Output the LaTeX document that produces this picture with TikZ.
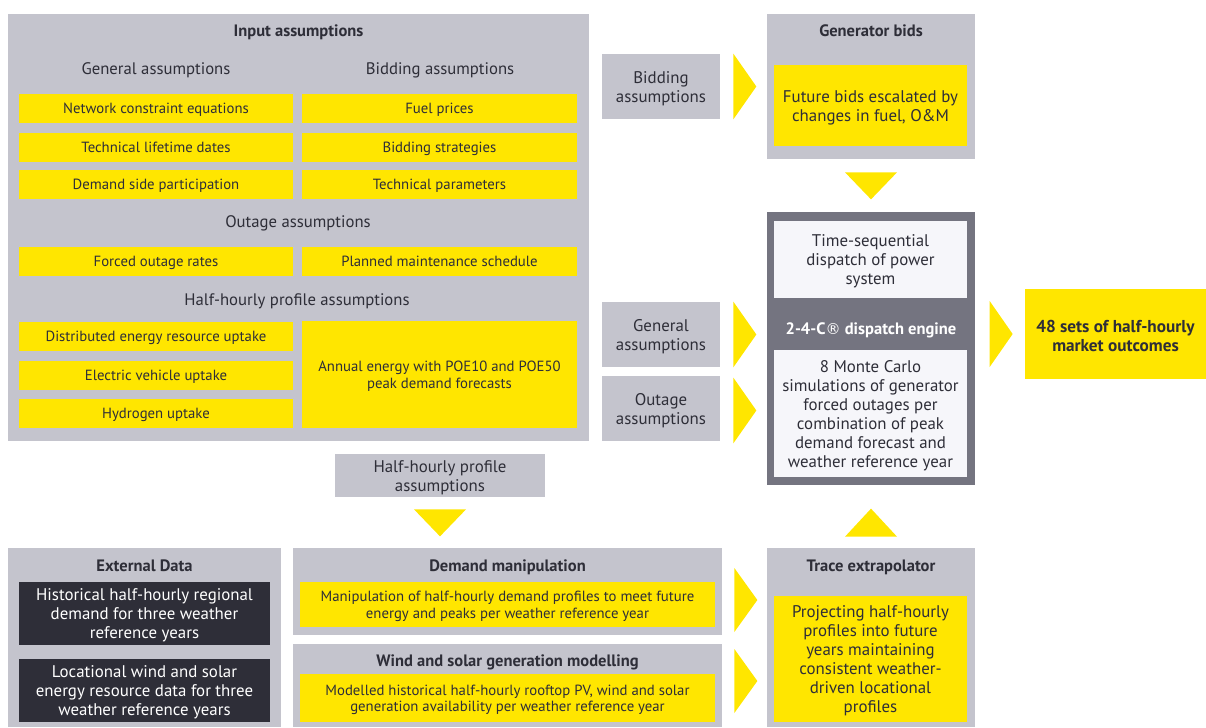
\documentclass[tikz,border=0pt]{standalone}
\usepackage{fontspec}
\setmainfont{PT Sans}
\newfontfamily\regfont{DejaVu Sans}
\usetikzlibrary{calc}
\definecolor{eyyellow}{HTML}{FFE600}
\definecolor{eygrey}{HTML}{C4C4CD}
\definecolor{eymid}{HTML}{747480}
\definecolor{eydark}{HTML}{2E2E38}
\definecolor{eywhite}{HTML}{F6F6FA}
\newcommand\lowr{\rule{0pt}{0.95em}}
\tikzset{
	sz/.style 2 args={minimum width=#1*0.02cm, minimum height=#2*0.02cm},
	greybox/.style={fill=eygrey, inner sep=0pt, align=center, text=eydark},
	ybox/.style={fill=eyyellow, inner sep=0pt, align=center, text=eydark},
	wbox/.style={fill=eywhite, inner sep=0pt, align=center, text=eydark},
	darkbox/.style={fill=eydark, inner sep=0pt, align=center, text=white},
	chev/.style={fill=eyyellow},
	tsmall/.style={font=\fontsize{8.4}{9.6}\selectfont},
	tsone/.style={tsmall, text height=8pt, text depth=2.1pt},
	tmed/.style={font=\fontsize{9.6}{10.8}\selectfont},
	thead/.style={font=\fontsize{9.5}{11}\selectfont, text=eydark, text height=9pt, text depth=2.4pt},
	ttitle/.style={font=\fontsize{9.4}{11}\selectfont\bfseries, text=eydark, text height=8.9pt, text depth=2.35pt},
}

\begin{document}
\begin{tikzpicture}[x=0.02cm, y=-0.02cm]
	\useasboundingbox (0,0) rectangle (1206,727);
	\begin{scope}
		\node (inp) at (298.5,227.5) [greybox, sz={581}{427}] {};
		\node (inpT) at (298.5,31) [ttitle] {Input assumptions};
		\node (hGen) at (156,69) [thead] {General assumptions};
		\node (hBid) at (440,69) [thead] {Bidding assumptions};
		\node (nce) at (156,108) [ybox, tsone, sz={274}{29}] {Network constraint equations};
		\node (fuel) at (439.5,108) [ybox, tsone, sz={275}{29}] {Fuel prices};
		\node (tld) at (156,147) [ybox, tsone, sz={274}{29}] {Technical lifetime dates};
		\node (bstr) at (439.5,147) [ybox, tsone, sz={275}{29}] {Bidding strategies};
		\node (dsp) at (156,184) [ybox, tsone, sz={274}{29}] {Demand side participation};
		\node (tpar) at (439.5,184) [ybox, tsone, sz={275}{29}] {Technical parameters};
		\node (hOut) at (298,222) [thead] {Outage assumptions};
		\node (for) at (156,261) [ybox, tsone, sz={274}{29}] {Forced outage rates};
		\node (pms) at (439.5,261) [ybox, tsone, sz={275}{29}] {Planned maintenance schedule};
		\node (hHh) at (297,300) [thead] {Half-hourly profile assumptions};
		\node (der) at (156,336) [ybox, tsone, sz={274}{29}] {Distributed energy resource uptake};
		\node (ev) at (156,375) [ybox, tsone, sz={274}{29}] {Electric vehicle uptake};
		\node (hyd) at (156,413) [ybox, tsone, sz={274}{29}] {Hydrogen uptake};
		\node (ann) at (439.5,374.5) [ybox, tsmall, sz={275}{107}] {\lowr Annual energy with POE10 and POE50\\peak demand forecasts};
	\end{scope}
	\node (hh) at (440,475.5) [greybox, tmed, sz={210}{43}] {\lowr Half-hourly profile\\assumptions};
	\fill [chev] ($(hh.south)+(-26,12)$) -- ($(hh.south)+(26,12)$) -- ($(hh.south)+(0,39)$) -- cycle;
	\begin{scope}
		\node (ext) at (144.5,637.5) [greybox, sz={273}{179}] {};
		\node (extT) at (144.5,566) [ttitle] {External Data};
		\node (hist) at (144.5,613.5) [darkbox, tmed, sz={251}{63}] {\lowr Historical half-hourly regional\\demand for three weather\\reference years};
		\node (loc) at (144.5,690.5) [darkbox, tmed, sz={251}{63}] {\lowr Locational wind and solar\\energy resource data for three\\weather reference years};
		\node (dm) at (507.5,591.5) [greybox, sz={429}{87}] {};
		\node (dmT) at (507.5,566) [ttitle] {Demand manipulation};
		\node (dmtxt) at (507.5,604.5) [ybox, tsmall, sz={415}{45}] {\lowr Manipulation of half-hourly demand profiles to meet future\\energy and peaks per weather reference year};
		\node (ws) at (507.5,685.5) [greybox, sz={429}{83}] {};
		\node (wsT) at (507.5,661) [ttitle] {Wind and solar generation modelling};
		\node (wstxt) at (507.5,698) [ybox, tsmall, sz={415}{48}] {\lowr Modelled historical half-hourly rooftop PV, wind and solar\\generation availability per weather reference year};
	\end{scope}
	\node (bidA) at (661,86.5) [greybox, tmed, sz={118}{65}] {\lowr Bidding\\assumptions};
	\node (genA) at (661,334.5) [greybox, tmed, sz={118}{65}] {\lowr General\\assumptions};
	\node (outA) at (661,408.5) [greybox, tmed, sz={118}{65}] {\lowr Outage\\assumptions};
	\begin{scope}
		\node (gen) at (871,86.5) [greybox, sz={208}{145}] {};
		\node (genT) at (871,31) [ttitle] {Generator bids};
		\node (gentxt) at (870.5,105.5) [ybox, tmed, sz={193}{81}] {\lowr Future bids escalated by\\changes in fuel, O\&M};
	\end{scope}
	\begin{scope}
		\node (eng) at (871,348.5) [fill=eymid, sz={208}{273}] {};
		\node (tsd) at (870.5,259.5) [wbox, tmed, sz={193}{77}] {\lowr Time-sequential\\dispatch of power\\system};
		\node (engT) at (871,329) [ttitle, text=white] {2-4-C{\regfont\mdseries\fontsize{8.6}{11}\selectfont ®} dispatch engine};
		\node (mc) at (870.5,413.5) [wbox, tmed, sz={193}{127}] {\lowr 8 Monte Carlo\\simulations of generator\\forced outages per\\combination of peak\\demand forecast and\\weather reference year};
	\end{scope}
	\node (out) at (1115.5,334) [ybox, font=\fontsize{9.8}{11}\selectfont\bfseries, sz={181}{90}] {\lowr 48 sets of half-hourly\\market outcomes};
	\begin{scope}
		\node (trace) at (871,637.5) [greybox, sz={208}{179}] {};
		\node (traceT) at (871,566) [ttitle] {Trace extrapolator};
		\node (trtxt) at (870.5,659) [ybox, tmed, sz={193}{126}] {\lowr Projecting half-hourly\\profiles into future\\years maintaining\\consistent weather-\\driven locational\\profiles};
	\end{scope}
	\fill [chev] ($(bidA.north east)+(13,0)$) -- ($(bidA.east)+(36,0)$) -- ($(bidA.south east)+(13,0)$) -- cycle;
	\fill [chev] ($(genA.north east)+(13,0)$) -- ($(genA.east)+(36,0)$) -- ($(genA.south east)+(13,0)$) -- cycle;
	\fill [chev] ($(outA.north east)+(13,2)$) -- ($(outA.east)+(36,2)$) -- ($(outA.south east)+(13,2)$) -- cycle;
	\fill [chev] ($(gen.south)+(-26,13)$) -- ($(gen.south)+(26,13)$) -- ($(gen.south)+(0,40)$) -- cycle;
	\fill [chev] ($(trace.north)+(-26,-11)$) -- ($(trace.north)+(26,-11)$) -- ($(trace.north)+(0,-39)$) -- cycle;
	\fill [chev] ($(out.west)+(-35,-33)$) -- ($(out.west)+(-12,0)$) -- ($(out.west)+(-35,33)$) -- cycle;
	\fill [chev] ($(dm.east)+(12,-23.5)$) -- ($(dm.east)+(35,8.5)$) -- ($(dm.east)+(12,40.5)$) -- cycle;
	\fill [chev] ($(ws.east)+(12,-36.5)$) -- ($(ws.east)+(35,-4.5)$) -- ($(ws.east)+(12,27.5)$) -- cycle;
\end{tikzpicture}
\end{document}
